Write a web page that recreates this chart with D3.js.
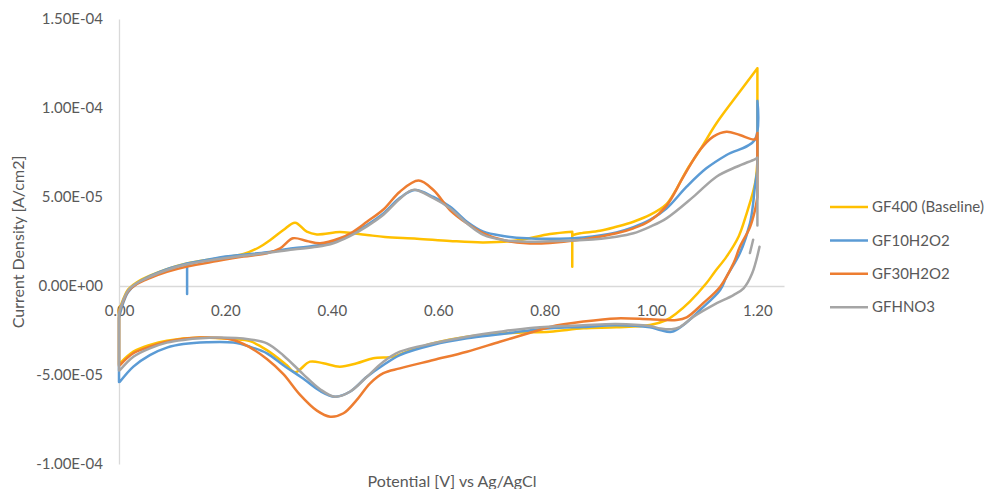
<!DOCTYPE html>
<html>
<head>
<meta charset="utf-8">
<script src="https://cdn.jsdelivr.net/npm/d3@7"></script>
<style>
  html, body { margin: 0; padding: 0; background: #ffffff; }
  svg { display: block; }
  text { font-family: Lato, "Open Sans", sans-serif; fill: #595959; }
</style>
</head>
<body>
<svg id="chart" width="992" height="489"></svg>
<script>
// Cyclic voltammograms of graphite felt electrodes (currents in units of 1e-5 A/cm2)
const J_UNIT = 1e-5;

const seriesNames = ["GF400 (Baseline)", "GF10H2O2", "GF30H2O2", "GFHNO3"];
const seriesColors = ["#FFC000", "#5B9BD5", "#ED7D31", "#A5A5A5"];

const xTickValues = [0, 0.2, 0.4, 0.6, 0.8, 1.0, 1.2];
const xTickLabels = ["0.00", "0.20", "0.40", "0.60", "0.80", "1.00", "1.20"];
const yTickValues = [-1e-4, -5e-5, 0, 5e-5, 1e-4, 1.5e-4];
const yTickLabels = ["-1.00E-04", "-5.00E-05", "0.00E+00", "5.00E-05", "1.00E-04", "1.50E-04"];

// GF400 (Baseline)
const potentialGF400 = [
  0, 0, 0.008, 0.017, 0.033, 0.058, 0.09, 0.127, 0.184, 0.234, 0.262, 0.285, 0.309, 0.331, 0.353, 0.372,
  0.415, 0.44, 0.466, 0.5, 0.56, 0.622, 0.685, 0.747, 0.81, 0.852, 0.852, 0.852, 0.867, 0.904, 0.935,
  0.967, 0.998, 1.029, 1.045, 1.067, 1.092, 1.123, 1.155, 1.2,
  1.2, 1.197, 1.192, 1.18, 1.165, 1.142, 1.12, 1.104, 1.073, 1.048, 1.029, 0.998, 0.935, 0.873, 0.81,
  0.747, 0.685, 0.654, 0.591, 0.541, 0.516, 0.478, 0.447, 0.415, 0.384, 0.359, 0.331, 0.315, 0.278,
  0.246, 0.215, 0.152, 0.09, 0.058, 0.027, 0.002
];
const currentGF400 = [
  -4.4, -1.4, -0.75, -0.2, 0.2, 0.58, 0.95, 1.27, 1.55, 1.8, 2.15, 2.6, 3.15, 3.56, 3.05, 2.9,
  3.03, 2.96, 2.87, 2.75, 2.66, 2.53, 2.45, 2.55, 2.92, 3.05, 1.08, 2.85, 2.96, 3.1, 3.33,
  3.61, 3.99, 4.6, 5.3, 6.5, 7.64, 9.14, 10.45, 12.23,
  7.0, 6.0, 5.3, 4.1, 2.8, 1.65, 0.8, 0.15, -0.88, -1.53, -1.91, -2.19, -2.32, -2.38, -2.57,
  -2.62, -2.75, -2.85, -3.22, -3.69, -3.97, -4.06, -4.34, -4.53, -4.34, -4.25, -4.85, -4.44, -3.6,
  -3.1, -2.99, -2.9, -3.07, -3.31, -3.69, -4.34
];

// GF10H2O2
const potentialGF10 = [
  0, 0, 0.008, 0.017, 0.033, 0.058, 0.09, 0.128, 0.128, 0.128, 0.184, 0.234, 0.278, 0.327, 0.372,
  0.403, 0.434, 0.466, 0.497, 0.528, 0.556, 0.591, 0.622, 0.654, 0.685, 0.722, 0.766, 0.81, 0.873,
  0.935, 0.967, 0.998, 1.029, 1.067, 1.104, 1.142, 1.195, 1.2,
  1.2, 1.195, 1.192, 1.186, 1.167, 1.142, 1.13, 1.092, 1.061, 1.039, 1.017, 0.998, 0.935, 0.873,
  0.81, 0.716, 0.654, 0.591, 0.528, 0.497, 0.466, 0.434, 0.406, 0.378, 0.346, 0.309, 0.278, 0.246,
  0.215, 0.165, 0.121, 0.09, 0.058, 0.027, 0.002
];
const currentGF10 = [
  -5.4, -1.8, -0.95, -0.35, 0.12, 0.55, 0.95, 1.27, -0.45, 1.27, 1.58, 1.76, 1.9, 2.12, 2.27,
  2.49, 2.87, 3.43, 4.08, 4.95, 5.39, 5.0, 4.46, 3.61, 3.05, 2.81, 2.68, 2.65, 2.73,
  3.01, 3.3, 3.71, 4.35, 5.58, 6.61, 7.36, 8.2, 10.4,
  6.5, 5.5, 4.64, 3.52, 1.84, 0.52, -0.22, -1.35, -2.19, -2.57, -2.47, -2.32, -2.2, -2.3,
  -2.38, -2.71, -2.94, -3.3, -3.88, -4.44, -5.1, -5.94, -6.22, -5.9, -5.2, -4.45, -3.78, -3.41,
  -3.18, -3.16, -3.26, -3.46, -3.88, -4.53, -5.37
];

// GF30H2O2
const potentialGF30 = [
  0, 0, 0.008, 0.017, 0.033, 0.058, 0.09, 0.128, 0.184, 0.234, 0.278, 0.303, 0.327, 0.353, 0.378,
  0.415, 0.44, 0.466, 0.497, 0.528, 0.563, 0.591, 0.622, 0.654, 0.685, 0.722, 0.766, 0.81, 0.873,
  0.935, 0.967, 0.998, 1.029, 1.061, 1.092, 1.117, 1.142, 1.167, 1.195, 1.2,
  1.2, 1.195, 1.186, 1.167, 1.155, 1.13, 1.098, 1.067, 1.048, 0.998, 0.935, 0.873, 0.81, 0.779,
  0.716, 0.654, 0.591, 0.528, 0.497, 0.472, 0.447, 0.422, 0.397, 0.372, 0.34, 0.309, 0.278, 0.246,
  0.215, 0.152, 0.09, 0.058, 0.027, 0.002
];
const currentGF30 = [
  -4.5, -1.5, -0.85, -0.3, 0.1, 0.45, 0.8, 1.1, 1.4, 1.65, 1.84, 2.12, 2.68, 2.53, 2.4,
  2.68, 3.05, 3.61, 4.3, 5.3, 5.92, 5.39, 4.27, 3.52, 2.96, 2.58, 2.4, 2.42, 2.62,
  2.96, 3.24, 3.67, 4.5, 6.14, 7.64, 8.39, 8.67, 8.48, 8.24, 8.6,
  5.0, 4.2, 3.3, 2.2, 1.27, -0.04, -0.97, -1.76, -1.91, -1.87, -1.82, -2.0, -2.3, -2.57,
  -3.13, -3.69, -4.16, -4.63, -4.9, -5.47, -6.4, -7.15, -7.34, -7.0, -6.1, -4.95, -4.1, -3.45,
  -3.03, -2.9, -3.13, -3.41, -3.78, -4.44
];

// GFHNO3 (null marks a break in the recorded trace)
const potentialHNO3 = [
  0, 0, 0.008, 0.017, 0.033, 0.058, 0.09, 0.128, 0.184, 0.234, 0.278, 0.327, 0.372, 0.403, 0.434,
  0.466, 0.497, 0.528, 0.553, 0.591, 0.622, 0.654, 0.685, 0.722, 0.766, 0.81, 0.873, 0.935, 0.967,
  0.998, 1.029, 1.08, 1.123, 1.161, 1.195, 1.2, 1.2, null, 1.192, 1.186, null,
  1.204, 1.19, 1.174, 1.155, 1.117, 1.08, 1.055, 1.039, 1.017, 0.998, 0.935, 0.873, 0.779, 0.716,
  0.654, 0.591, 0.528, 0.497, 0.466, 0.434, 0.406, 0.378, 0.346, 0.309, 0.278, 0.246, 0.184, 0.121,
  0.09, 0.058, 0.027, 0.002
];
const currentHNO3 = [
  -4.75, -1.5, -0.8, -0.25, 0.15, 0.52, 0.9, 1.22, 1.5, 1.7, 1.85, 2.05, 2.2, 2.4, 2.8,
  3.35, 4.0, 4.9, 5.4, 4.93, 4.37, 3.52, 2.87, 2.58, 2.49, 2.52, 2.58, 2.77, 2.96,
  3.33, 3.8, 5.02, 6.14, 6.7, 7.12, 7.2, 3.4, null, 2.6, 1.85, null,
  2.2, 0.7, -0.13, -0.51, -1.07, -1.72, -2.29, -2.43, -2.38, -2.25, -2.13, -2.2, -2.34, -2.57,
  -2.85, -3.22, -3.69, -4.25, -5.1, -5.94, -6.22, -5.8, -4.95, -3.9, -3.22, -3.0, -2.9, -3.03,
  -3.18, -3.5, -3.97, -4.72
];

const seriesPotentials = [potentialGF400, potentialGF10, potentialGF30, potentialHNO3];
const seriesCurrents = [currentGF400, currentGF10, currentGF30, currentHNO3];

const svg = d3.select("#chart");

const x = d3.scaleLinear().domain([0, 1.25]).range([119, 784]);
const y = d3.scaleLinear().domain([-1e-4, 1.5e-4]).range([464, 19]);

// Y axis
const yAxis = d3.axisLeft(y)
  .tickValues(yTickValues)
  .tickFormat((d, i) => yTickLabels[i])
  .tickSize(0)
  .tickPadding(16);
const gy = svg.append("g").attr("transform", `translate(${x(0)},0)`).call(yAxis);
gy.select(".domain").attr("stroke", "#D9D9D9").attr("stroke-width", 1.3);
gy.selectAll("text").attr("font-size", 15).attr("fill", "#595959")
  .style("font-family", "Lato, 'Open Sans', sans-serif");

// X axis drawn through zero current
const xAxis = d3.axisBottom(x)
  .tickValues(xTickValues)
  .tickFormat((d, i) => xTickLabels[i])
  .tickSize(0)
  .tickPadding(19);
const gx = svg.append("g").attr("transform", `translate(0,${y(0)})`).call(xAxis);
gx.select(".domain").attr("stroke", "#D9D9D9").attr("stroke-width", 1.3);
gx.selectAll("text").attr("font-size", 15).attr("fill", "#595959")
  .style("font-family", "Lato, 'Open Sans', sans-serif");

// Split a trace into smooth runs: gaps (null) end a run, and vertical
// steps (two samples at the same potential) are kept as straight segments.
function splitRuns(pts) {
  const runs = [];
  let cur = [];
  for (let i = 0; i < pts.length; i++) {
    const p = pts[i];
    if (p[0] == null || p[1] == null) {
      if (cur.length > 1) runs.push(cur);
      cur = [];
      continue;
    }
    const prev = cur[cur.length - 1];
    if (prev && prev[0] === p[0]) {
      if (cur.length > 1) runs.push(cur);
      runs.push([prev, p]);
      cur = [p];
    } else {
      cur.push(p);
    }
  }
  if (cur.length > 1) runs.push(cur);
  return runs;
}

const line = d3.line()
  .x(d => x(d[0]))
  .y(d => y(d[1] * J_UNIT))
  .curve(d3.curveCatmullRom.alpha(0.5));

seriesNames.forEach((name, s) => {
  const pts = seriesPotentials[s].map((v, i) => [v, seriesCurrents[s][i]]);
  const path = splitRuns(pts).map(r => line(r)).join("");
  svg.append("path")
    .attr("fill", "none")
    .attr("stroke", seriesColors[s])
    .attr("stroke-width", 2.5)
    .attr("stroke-linejoin", "round")
    .attr("stroke-linecap", "round")
    .attr("d", path);
});

// Axis titles
svg.append("text")
  .attr("transform", "translate(24,242) rotate(-90)")
  .attr("text-anchor", "middle")
  .attr("font-size", 16)
  .text("Current Density [A/cm2]");

svg.append("text")
  .attr("x", 452)
  .attr("y", 487)
  .attr("text-anchor", "middle")
  .attr("font-size", 16)
  .text("Potential [V] vs Ag/AgCl");

// Legend
const legend = svg.append("g").attr("transform", "translate(830,207)");
seriesNames.forEach((name, s) => {
  const g = legend.append("g").attr("transform", `translate(0,${s * 33.4})`);
  g.append("line")
    .attr("x1", 0).attr("x2", 38).attr("y1", 0).attr("y2", 0)
    .attr("stroke", seriesColors[s]).attr("stroke-width", 2.5);
  g.append("text")
    .attr("x", 42).attr("y", 0).attr("dy", "0.35em")
    .attr("font-size", 15)
    .text(name);
});
</script>
</body>
</html>
